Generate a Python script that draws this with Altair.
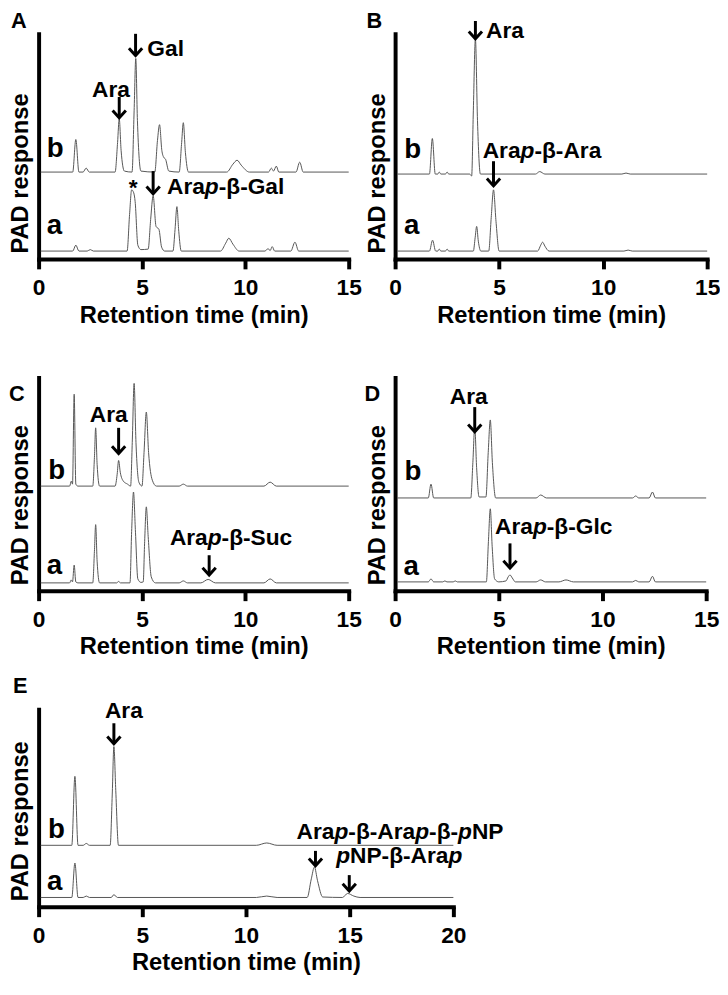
import altair as alt
import pandas as pd

FONT = "Liberation Sans"

# ---------------- values ----------------
# y values: PAD response in arbitrary units (height above the time axis)
# Panel A
A_a_t = [0.1, 1.65, 1.8, 1.95, 2.35, 2.5, 2.65, 4.28, 4.4, 4.5, 4.6, 4.67, 4.8, 4.95, 5.3, 5.42, 5.54, 5.68, 5.82, 5.95, 6.1, 6.5, 6.6, 6.69, 6.78, 6.9, 8.8, 9.05, 9.2, 9.4, 9.7, 10.95, 11.1, 11.2, 11.3, 11.42, 12.2, 12.4, 12.58, 15.0]
A_a_y = [8, 8, 14, 8, 8, 9.5, 8, 8, 45, 70, 67, 58, 14, 9.5, 10, 40, 64, 33, 30, 12, 8, 8, 30, 53, 28, 8, 8, 16, 21, 15, 8, 8, 10.5, 8.5, 12.5, 8, 8, 17, 8, 8]
A_b_t = [0.1, 1.65, 1.8, 1.95, 2.15, 2.3, 2.45, 3.7, 3.82, 3.9, 3.99, 4.15, 4.52, 4.62, 4.7, 4.78, 4.95, 5.62, 5.75, 5.85, 5.96, 6.05, 6.14, 6.3, 6.8, 6.92, 7.0, 7.1, 7.25, 9.1, 9.4, 9.6, 9.8, 10.2, 11.12, 11.26, 11.36, 11.5, 11.62, 12.45, 12.63, 12.8, 15.0]
A_b_y = [88, 88, 121, 88, 88, 92, 88, 88, 118, 142, 110, 89, 88, 150, 203, 140, 89, 88, 120, 136, 110, 103, 101, 89, 88, 118, 138, 108, 88, 88, 96, 100, 95, 88, 88, 92, 89, 94, 88, 88, 98, 88, 88]
A_arrow_t = [3.9, 4.69, 5.54]
A_arrow_top = [164, 228, 89]
A_arrow_tip = [143, 206, 66]
A_text = ["Ara", "Gal", "*", "Ara_p_-β-Gal"]
A_text_t = [3.5, 5.26, 4.57, 6.21]
A_text_y = [171, 212.5, 72, 73]
A_text_align = ["center", "left", "center", "left"]
A_trace_lbl_t = [0.8, 0.76]
A_trace_lbl_y = [111, 33]

# Panel B
B_a_t = [0.1, 1.65, 1.8, 1.95, 2.05, 2.12, 2.2, 2.42, 2.5, 2.58, 3.76, 3.85, 3.92, 4.0, 4.12, 4.5, 4.62, 4.73, 4.85, 5.0, 6.85, 7.0, 7.09, 7.2, 7.4, 11.0, 11.2, 11.4, 15.0]
B_a_y = [8, 8, 19, 8, 8, 10, 8, 8, 10, 8, 8, 22, 33, 18, 8, 8, 42, 70, 38, 8, 8, 14, 17, 13, 8, 8, 9, 8, 8]
B_b_t = [0.1, 1.65, 1.79, 1.93, 2.05, 2.12, 2.2, 2.42, 2.5, 2.58, 3.58, 3.68, 3.76, 3.86, 3.96, 4.1, 6.75, 6.95, 7.2, 10.9, 11.1, 11.3, 15.0]
B_b_y = [86, 86, 122, 86, 86, 88, 86, 86, 88, 86, 86, 84, 150, 223, 140, 86, 86, 88.5, 86, 86, 87, 86, 86]
B_arrow_t = [3.86, 4.73]
B_arrow_top = [241, 99]
B_arrow_tip = [223, 74]
B_text = ["Ara", "Ara_p_-β-Ara"]
B_text_t = [4.37, 4.21]
B_text_y = [231, 109]
B_text_align = ["left", "left"]
B_trace_lbl_t = [0.85, 0.8]
B_trace_lbl_y = [110, 33]

# Panel C
C_a_t = [0.1, 1.5, 1.58, 1.64, 1.72, 1.8, 1.9, 2.62, 2.7, 2.76, 2.83, 2.95, 3.78, 3.87, 3.96, 4.42, 4.5, 4.59, 4.68, 4.8, 4.95, 5.06, 5.13, 5.21, 5.3, 5.45, 5.65, 6.8, 7.0, 7.2, 7.85, 8.2, 8.55, 10.9, 11.2, 11.5, 15.0]
C_a_y = [8, 8, 11, 9, 26, 9, 8, 8, 40, 67, 30, 8, 8, 9.5, 8, 8, 60, 100, 62, 12, 8.5, 9, 50, 85, 55, 14, 8, 8, 10, 8, 8, 11.5, 8, 8, 12, 8, 8]
C_b_t = [0.1, 1.5, 1.58, 1.64, 1.72, 1.8, 1.9, 2.62, 2.7, 2.76, 2.83, 2.95, 3.7, 3.8, 3.87, 3.95, 4.1, 4.3, 4.45, 4.53, 4.62, 4.71, 4.85, 5.0, 5.1, 5.21, 5.32, 5.5, 5.7, 6.8, 7.0, 7.2, 10.9, 11.2, 11.5, 15.0]
C_b_y = [106, 106, 111, 108, 199, 108, 106, 106, 135, 165, 128, 106, 106, 118, 132, 120, 111, 108, 106, 150, 210, 150, 110, 106, 140, 181, 140, 112, 106, 106, 108, 106, 106, 110, 106, 106]
C_arrow_t = [3.87, 8.25]
C_arrow_top = [165, 36]
C_arrow_tip = [139, 16]
C_text = ["Ara", "Ara_p_-β-Suc"]
C_text_t = [3.39, 6.35]
C_text_y = [178, 53]
C_text_align = ["center", "left"]
C_trace_lbl_t = [0.87, 0.76]
C_trace_lbl_y = [121, 24.5]

# Panel D
D_a_t = [0.1, 1.6, 1.73, 1.86, 2.3, 2.4, 2.5, 2.8, 2.9, 3.0, 4.4, 4.5, 4.59, 4.68, 4.8, 5.0, 5.35, 5.45, 5.54, 5.65, 5.8, 6.8, 7.02, 7.25, 7.9, 8.24, 8.6, 11.45, 11.6, 11.75, 12.25, 12.41, 12.55, 15.0]
D_a_y = [9, 9, 12, 9, 9, 10, 9, 9, 10, 9, 9, 50, 83, 45, 12, 9, 10, 14, 16, 13, 9, 9, 11, 9, 9, 11, 9, 9, 10.5, 9, 9, 14.7, 9, 9]
D_b_t = [0.1, 1.6, 1.73, 1.86, 3.65, 3.75, 3.84, 3.93, 4.05, 4.38, 4.49, 4.59, 4.69, 4.85, 6.8, 7.02, 7.3, 11.45, 11.6, 11.75, 12.25, 12.41, 12.55, 15.0]
D_b_y = [94, 94, 108, 94, 94, 130, 166, 125, 95, 95, 140, 173, 130, 94, 94, 97, 94, 94, 96, 94, 94, 100, 94, 94]
D_arrow_t = [3.84, 5.54]
D_arrow_top = [186, 48]
D_arrow_tip = [161, 23]
D_text = ["Ara", "Ara_p_-β-Glc"]
D_text_t = [3.55, 4.82]
D_text_y = [196, 65]
D_text_align = ["center", "left"]
D_trace_lbl_t = [0.86, 0.77]
D_trace_lbl_y = [120, 24]

# Panel E
E_a_t = [0.1, 1.6, 1.75, 1.9, 2.15, 2.3, 2.45, 3.5, 3.63, 3.8, 10.5, 11.0, 11.5, 12.95, 13.15, 13.3, 13.45, 13.7, 14.65, 14.9, 15.2, 15.5, 20.0]
E_a_y = [10, 10, 47, 10, 10, 11.5, 10, 10, 13, 10, 10, 11.5, 10, 10, 30, 42.7, 28, 10.5, 10, 14.3, 11.5, 10, 10]
E_b_t = [0.1, 1.6, 1.75, 1.9, 2.15, 2.3, 2.45, 3.45, 3.55, 3.63, 3.72, 3.85, 10.5, 11.0, 11.5, 20.0]
E_b_y = [66, 66, 140, 66, 66, 68, 66, 66, 120, 172, 125, 66, 66, 68.5, 66, 66]
E_arrow_t = [3.63, 13.35, 14.98]
E_arrow_top = [197, 60, 34]
E_arrow_tip = [175, 44, 17]
E_text = ["Ara", "Ara_p_-β-Ara_p_-β-_p_NP", "_p_NP-β-Ara_p_"]
E_text_t = [4.11, 12.44, 14.35]
E_text_y = [210, 80, 54]
E_text_align = ["center", "left", "left"]
E_trace_lbl_t = [0.86, 0.78]
E_trace_lbl_y = [82, 26.5]

TRACE_LABELS = ["b", "a"]
X_TITLE = "Retention time (min)"
Y_TITLE = "PAD response"

# ---------------- helpers ----------------
# Liberation Sans Bold advance widths (per 1000 em) for segment placement
CW = {'A': 722, 'r': 389, 'a': 556, 'p': 611, '-': 333, 'β': 611, 'G': 778,
      'l': 278, 'S': 667, 'u': 611, 'c': 556, 'N': 722, 'P': 667, '*': 389}
ANN_SIZE = 23


def rich_text(t, y, text, align):
    pieces = text.split('_')
    segs = [(p, i % 2 == 1) for i, p in enumerate(pieces) if p]
    widths = [sum(CW.get(ch, 600) for ch in s) * ANN_SIZE / 1000.0 for s, _ in segs]
    total = sum(widths)
    cum = -total / 2.0 if align == "center" else 0.0
    out = []
    for (s, it), w in zip(segs, widths):
        df = pd.DataFrame({'t': [t], 'y': [y], 'label': [s]})
        out.append(
            alt.Chart(df).mark_text(
                align='left', baseline='middle', dx=cum, font=FONT,
                fontSize=ANN_SIZE, fontWeight='bold',
                fontStyle='italic' if it else 'normal', color='black'
            ).encode(text='label:N')
        )
        cum += w
    return out


def panel(a_t, a_y, b_t, b_y, arr_t, arr_top, arr_tip, txt, txt_t, txt_y, txt_al,
          lbl_t, lbl_y, letter, letter_x, letter_y, width, height, ymax, xmax, ticks,
          xrange):
    traces = pd.DataFrame({
        't': a_t + b_t,
        'y': a_y + b_y,
        'trace': ['a'] * len(a_t) + ['b'] * len(b_t),
    })
    x = alt.X('t:Q', scale=alt.Scale(domain=[0, xmax], nice=False, zero=False,
                                     range=[0, xrange]),
              axis=alt.Axis(values=ticks, title=X_TITLE, format='d', grid=False,
                            domainWidth=4, domainColor='black', domainCap='square',
                            tickWidth=4, tickSize=10, tickColor='black',
                            labelFont=FONT, labelFontSize=23, labelFontWeight='bold',
                            labelColor='black', labelPadding=8, labelFlush=False,
                            titleFont=FONT, titleFontSize=24, titleFontWeight='bold',
                            titleColor='black', titlePadding=4,
                            titleX=xrange / 2.0))
    y = alt.Y('y:Q', scale=alt.Scale(domain=[0, ymax], nice=False, zero=False),
              axis=alt.Axis(title=Y_TITLE, labels=False, ticks=False, grid=False,
                            domainWidth=4, domainColor='black', domainCap='square',
                            titleFont=FONT, titleFontSize=24, titleFontWeight='bold',
                            titleColor='black', titleAngle=270, titleAlign='left',
                            titleBaseline='bottom', titleX=-6, titleY=height - 6))

    lines = alt.Chart(traces).mark_line(
        color='#555555', strokeWidth=1, interpolate='monotone'
    ).encode(detail='trace:N')

    arr = pd.DataFrame({'t': arr_t, 'y': arr_top, 'y2': arr_tip})
    shafts = alt.Chart(arr).mark_rule(color='black', strokeWidth=3).encode(y2='y2:Q')
    heads = alt.Chart(pd.DataFrame({'t': arr_t, 'y': arr_tip})).mark_point(
        shape='M-1,-1.1L0,0L1,-1.1', size=180, filled=False, strokeWidth=3,
        color='black', opacity=1
    )

    texts = []
    for s, tt, yy, al in zip(txt, txt_t, txt_y, txt_al):
        texts += rich_text(tt, yy, s, al)

    tl = pd.DataFrame({'t': lbl_t, 'y': lbl_y, 'label': TRACE_LABELS})
    tlabels = alt.Chart(tl).mark_text(
        font=FONT, fontSize=28, fontWeight='bold', align='center',
        baseline='middle', color='black'
    ).encode(text='label:N')

    let = alt.Chart(pd.DataFrame({'label': [letter]})).mark_text(
        font=FONT, fontSize=22, fontWeight='bold', align='left',
        baseline='alphabetic', color='black'
    ).encode(text='label:N', x=alt.value(letter_x), y=alt.value(letter_y))

    return alt.layer(lines, shafts, heads, *texts, tlabels, let).encode(
        x=x, y=y).properties(width=width, height=height)


PW = 314  # grid cell width of every panel
H1, H2, H3 = 228, 216, 200

pA = panel(A_a_t, A_a_y, A_b_t, A_b_y, A_arrow_t, A_arrow_top, A_arrow_tip,
           A_text, A_text_t, A_text_y, A_text_align, A_trace_lbl_t, A_trace_lbl_y,
           "A", -28, -6, PW, H1, 228, 15, [0, 5, 10, 15], 314)
pB = panel(B_a_t, B_a_y, B_b_t, B_b_y, B_arrow_t, B_arrow_top, B_arrow_tip,
           B_text, B_text_t, B_text_y, B_text_align, B_trace_lbl_t, B_trace_lbl_y,
           "B", -29, -6, PW, H1, 228, 15, [0, 5, 10, 15], 316)
pC = panel(C_a_t, C_a_y, C_b_t, C_b_y, C_arrow_t, C_arrow_top, C_arrow_tip,
           C_text, C_text_t, C_text_y, C_text_align, C_trace_lbl_t, C_trace_lbl_y,
           "C", -30, 24, PW, H2, 216, 15, [0, 5, 10, 15], 314)
pD = panel(D_a_t, D_a_y, D_b_t, D_b_y, D_arrow_t, D_arrow_top, D_arrow_tip,
           D_text, D_text_t, D_text_y, D_text_align, D_trace_lbl_t, D_trace_lbl_y,
           "D", -31, 24, PW, H2, 216, 15, [0, 5, 10, 15], 315)
pE = panel(E_a_t, E_a_y, E_b_t, E_b_y, E_arrow_t, E_arrow_top, E_arrow_tip,
           E_text, E_text_t, E_text_y, E_text_align, E_trace_lbl_t, E_trace_lbl_y,
           "E", -26, -16, PW, H3, 212, 20, [0, 5, 10, 15, 20], 420)

chart = alt.concat(
    pA, pB, pC, pD, pE, columns=2, bounds='flush',
    spacing={'row': 120, 'column': 47}
).properties(
    padding={'left': 0, 'top': -4, 'right': 0, 'bottom': 0}, background='white'
).configure_view(stroke=None)

chart.save("out.html", embed_options={"renderer": "svg", "actions": False})
